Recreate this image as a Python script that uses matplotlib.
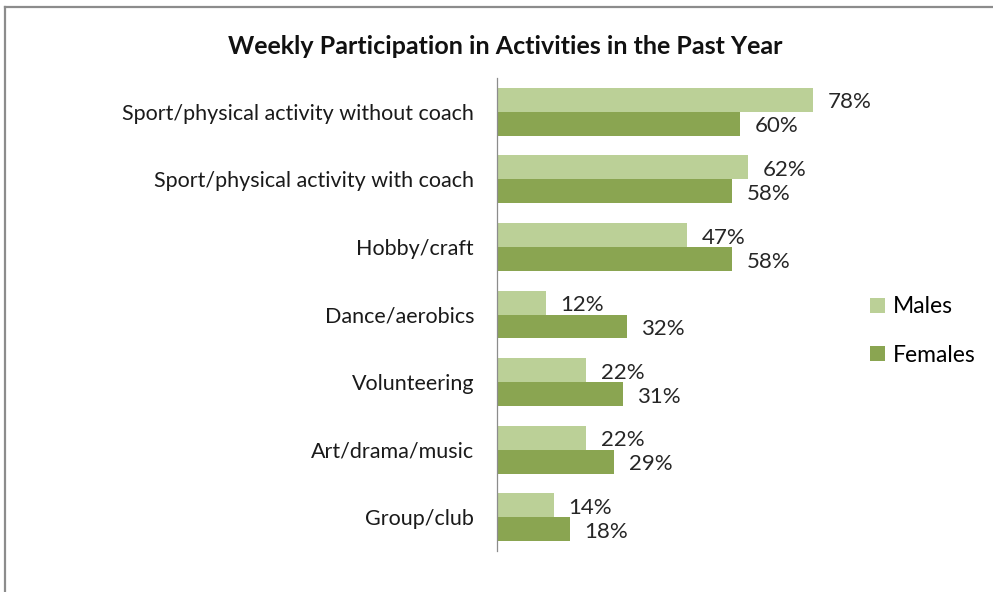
import numpy as np
import matplotlib.pyplot as plt
from matplotlib.lines import Line2D

plt.rcParams['font.family'] = ['Lato', 'DejaVu Sans']

categories = ['Sport/physical activity without coach', 'Sport/physical activity with coach',
              'Hobby/craft', 'Dance/aerobics', 'Volunteering', 'Art/drama/music', 'Group/club']
males = [78, 62, 47, 12, 22, 22, 14]
females = [60, 58, 58, 32, 31, 29, 18]

male_color = '#bbd097'
female_color = '#8aa551'

W, H = 993, 592
fig = plt.figure(figsize=(W / 100, H / 100), dpi=100)

# frame (only top and left edges show in the reference)
fig.add_artist(Line2D([5 / W, 5 / W], [0, 1 - 7 / H], color='#8c8c8c', lw=1.6))
fig.add_artist(Line2D([5 / W, 1], [1 - 7 / H, 1 - 7 / H], color='#8c8c8c', lw=1.6))

ax = fig.add_axes([497 / W, 1 - 551 / H, 405 / W, (551 - 78) / H])
y = np.arange(len(categories))
h = 0.355
ax.barh(y - h / 2, males, height=h, color=male_color, label='Males')
ax.barh(y + h / 2, females, height=h, color=female_color, label='Females')
ax.set_xlim(0, 100)
ax.set_ylim(len(categories) - 0.5, -0.5)

for i in range(len(categories)):
    ax.text(males[i] + 3.6, y[i] - h / 2 + 0.04, f'{males[i]}%', va='center', ha='left',
            fontsize=16, color='#262626')
    ax.text(females[i] + 3.6, y[i] + h / 2 + 0.04, f'{females[i]}%', va='center', ha='left',
            fontsize=16, color='#262626')

ax.set_yticks(y)
ax.set_yticklabels(categories, fontsize=15.5, color='#1a1a1a')
ax.tick_params(axis='y', length=0, pad=16.5)
ax.set_xticks([])
for s in ['top', 'right', 'bottom']:
    ax.spines[s].set_visible(False)
ax.spines['left'].set_color('#8c8c8c')
ax.spines['left'].set_linewidth(0.9)

fig.text(505 / W, 1 - 47 / H, 'Weekly Participation in Activities in the Past Year',
         ha='center', va='center', fontsize=18, fontweight='bold', color='#111111')

leg = fig.legend(loc='center left', bbox_to_anchor=(849 / W, 1 - 331 / H), frameon=False,
                 fontsize=16.5, handlelength=0.65, handleheight=0.65, handletextpad=0.35,
                 labelspacing=1.2)

fig.savefig('out.png', dpi=100)
